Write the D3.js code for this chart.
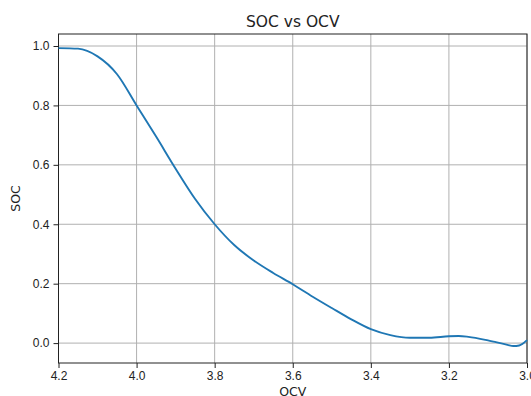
<!DOCTYPE html>
<html>
<head>
<meta charset="UTF-8">
<script src="https://cdn.jsdelivr.net/npm/d3@7"></script>
<style>
    body { margin: 0; background: #fff; }
    svg { font-family: 'DejaVu Sans', sans-serif; }
    .tick text { font-size: 12px; fill: #222; }
</style>
</head>
<body>
<div id="chart"></div>
<script>
// OCV (V) and SOC values
const ocv = [4.20, 4.15, 4.10, 4.05, 4.00, 3.95, 3.90, 3.85, 3.80, 3.75, 3.70, 3.65, 3.60,
             3.55, 3.50, 3.45, 3.40, 3.35, 3.30, 3.25, 3.20, 3.175, 3.15, 3.10, 3.05, 3.035, 3.02, 3.00];
const soc = [0.993, 0.991, 0.965, 0.905, 0.800, 0.695, 0.587, 0.485, 0.400, 0.330, 0.278, 0.236, 0.198,
             0.157, 0.118, 0.080, 0.047, 0.027, 0.018, 0.018, 0.023, 0.024, 0.021, 0.009, -0.006, -0.010, -0.008, 0.010];
const xTicks = [4.2, 4.0, 3.8, 3.6, 3.4, 3.2, 3.0];
const yTicks = [0.0, 0.2, 0.4, 0.6, 0.8, 1.0];

const width = 531, height = 396;
const margin = {top: 34, right: 4, bottom: 33, left: 58.5};

const svg = d3.select("#chart").append("svg")
    .attr("width", width)
    .attr("height", height);

const x = d3.scaleLinear().domain([4.2, 3.0]).range([margin.left, width - margin.right]);
const y = d3.scaleLinear().domain([-0.067, 1.0404]).range([height - margin.bottom, margin.top]);

// grid
svg.append("g").selectAll("line").data(xTicks).enter().append("line")
    .attr("x1", d => x(d)).attr("x2", d => x(d))
    .attr("y1", margin.top).attr("y2", height - margin.bottom)
    .attr("stroke", "#b0b0b0").attr("stroke-width", 1);
svg.append("g").selectAll("line").data(yTicks).enter().append("line")
    .attr("x1", margin.left).attr("x2", width - margin.right)
    .attr("y1", d => y(d)).attr("y2", d => y(d))
    .attr("stroke", "#b0b0b0").attr("stroke-width", 1);

// axes
svg.append("g")
    .attr("transform", `translate(0,${height - margin.bottom})`)
    .call(d3.axisBottom(x).tickValues(xTicks).tickFormat(d3.format(".1f")).tickSize(5).tickPadding(3));
svg.append("g")
    .attr("transform", `translate(${margin.left},0)`)
    .call(d3.axisLeft(y).tickValues(yTicks).tickFormat(d3.format(".1f")).tickSize(5).tickPadding(4));
svg.selectAll(".domain").remove();
svg.selectAll(".tick line").attr("stroke", "#222");

// frame
svg.append("rect")
    .attr("x", margin.left).attr("y", margin.top)
    .attr("width", width - margin.left - margin.right)
    .attr("height", height - margin.top - margin.bottom)
    .attr("fill", "none").attr("stroke", "#222").attr("stroke-width", 1);

// curve
const line = d3.line()
    .x((d, i) => x(ocv[i]))
    .y(d => y(d))
    .curve(d3.curveMonotoneX);
svg.append("path")
    .datum(soc)
    .attr("d", line)
    .attr("fill", "none")
    .attr("stroke", "#1f77b4")
    .attr("stroke-width", 1.9);

// labels
svg.append("text")
    .attr("x", (margin.left + width - margin.right) / 2)
    .attr("y", 27)
    .attr("text-anchor", "middle")
    .attr("font-size", 15.5)
    .attr("fill", "#222")
    .text("SOC vs OCV");
svg.append("text")
    .attr("x", (margin.left + width - margin.right) / 2)
    .attr("y", 396)
    .attr("text-anchor", "middle")
    .attr("font-size", 12.5)
    .attr("fill", "#222")
    .text("OCV");
svg.append("text")
    .attr("transform", `translate(20,${(margin.top + height - margin.bottom) / 2}) rotate(-90)`)
    .attr("text-anchor", "middle")
    .attr("font-size", 12.5)
    .attr("fill", "#222")
    .text("SOC");
</script>
</body>
</html>
